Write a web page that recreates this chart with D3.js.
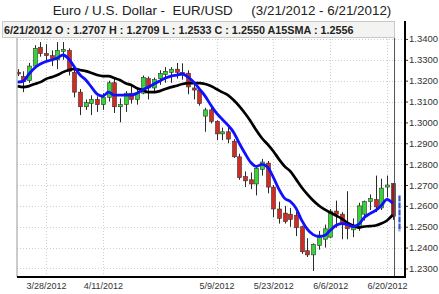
<!DOCTYPE html>
<html>
<head>
<meta charset="utf-8">
<script src="https://cdn.jsdelivr.net/npm/d3@7"></script>
<style>
  body { margin: 0; background: #fff; }
  svg { display: block; font-family: "Liberation Sans", Arial, sans-serif; }
</style>
</head>
<body>
<script>

var dates = ["3/21/2012","3/22/2012","3/23/2012","3/26/2012","3/27/2012","3/28/2012","3/29/2012","3/30/2012",
  "4/2/2012","4/3/2012","4/4/2012","4/5/2012","4/6/2012","4/9/2012","4/10/2012","4/11/2012","4/12/2012","4/13/2012",
  "4/16/2012","4/17/2012","4/18/2012","4/19/2012","4/20/2012","4/23/2012","4/24/2012","4/25/2012","4/26/2012","4/27/2012","4/30/2012",
  "5/1/2012","5/2/2012","5/3/2012","5/4/2012","5/7/2012","5/8/2012","5/9/2012","5/10/2012","5/11/2012","5/14/2012","5/15/2012",
  "5/16/2012","5/17/2012","5/18/2012","5/21/2012","5/22/2012","5/23/2012","5/24/2012","5/25/2012","5/28/2012","5/29/2012","5/30/2012","5/31/2012",
  "6/1/2012","6/4/2012","6/5/2012","6/6/2012","6/7/2012","6/8/2012","6/11/2012","6/12/2012","6/13/2012","6/14/2012","6/15/2012",
  "6/18/2012","6/19/2012","6/20/2012","6/21/2012"];

var opens  = [1.3240,1.3220,1.3200,1.3270,1.3360,1.3330,1.3320,1.3300,1.3340,1.3345,1.3240,1.3145,1.3075,1.3090,1.3110,1.3085,1.3120,1.3190,
  1.3075,1.3085,1.3140,1.3110,1.3140,1.3210,1.3165,1.3210,1.3230,1.3240,1.3255,1.3240,1.3236,1.3165,1.3155,1.3030,1.3060,1.3005,1.2945,1.2955,
  1.2910,1.2835,1.2740,1.2725,1.2705,1.2775,1.2805,1.2690,1.2585,1.2565,1.2560,1.2555,1.2500,1.2385,1.2365,1.2410,1.2440,1.2450,1.2575,1.2560,
  1.2505,1.2485,1.2500,1.2560,1.2620,1.2630,1.2590,1.2690,1.2707];
var highs  = [1.3255,1.3245,1.3285,1.3370,1.3385,1.3375,1.3345,1.3385,1.3385,1.3355,1.3255,1.3160,1.3110,1.3130,1.3125,1.3140,1.3200,1.3212,
  1.3115,1.3150,1.3175,1.3170,1.3225,1.3220,1.3215,1.3250,1.3265,1.3265,1.3285,1.3283,1.3250,1.3190,1.3165,1.3070,1.3075,1.3010,1.2975,1.2978,
  1.2920,1.2850,1.2765,1.2760,1.2785,1.2825,1.2815,1.2700,1.2620,1.2600,1.2590,1.2570,1.2505,1.2445,1.2420,1.2480,1.2510,1.2585,1.2625,1.2570,
  1.2670,1.2540,1.2615,1.2625,1.2655,1.2745,1.2730,1.2745,1.2709];
var lows   = [1.3222,1.3145,1.3190,1.3260,1.3315,1.3290,1.3270,1.3255,1.3300,1.3225,1.3120,1.3035,1.3060,1.3035,1.3050,1.3060,1.3100,1.3045,
  1.3000,1.3050,1.3090,1.3085,1.3135,1.3110,1.3140,1.3180,1.3190,1.3190,1.3210,1.3205,1.3135,1.3110,1.3080,1.2955,1.2995,1.2915,1.2915,1.2900,
  1.2830,1.2725,1.2690,1.2680,1.2650,1.2745,1.2660,1.2545,1.2515,1.2515,1.2500,1.2455,1.2370,1.2355,1.2288,1.2390,1.2400,1.2445,1.2495,1.2440,
  1.2440,1.2450,1.2480,1.2530,1.2580,1.2570,1.2580,1.2640,1.2533];
var closes = [1.3232,1.3195,1.3270,1.3355,1.3330,1.3320,1.3300,1.3345,1.3350,1.3245,1.3145,1.3075,1.3095,1.3110,1.3085,1.3120,1.3190,1.3075,
  1.3085,1.3140,1.3110,1.3140,1.3215,1.3165,1.3205,1.3235,1.3245,1.3255,1.3240,1.3236,1.3170,1.3155,1.3090,1.3060,1.3005,1.2945,1.2955,1.2920,
  1.2835,1.2735,1.2720,1.2705,1.2780,1.2810,1.2690,1.2585,1.2540,1.2525,1.2535,1.2495,1.2380,1.2365,1.2415,1.2460,1.2490,1.2575,1.2560,1.2510,
  1.2490,1.2500,1.2600,1.2620,1.2635,1.2595,1.2685,1.2700,1.2550];

// fast average (blue) and 15-day SMA (black)
var smaFast = [1.3193,1.3198,1.3232,1.3261,1.3280,1.3292,1.3299,1.3309,1.3323,1.3304,1.3265,1.3227,1.3203,1.3169,1.3136,1.3126,1.3145,1.3131,
  1.3131,1.3131,1.3131,1.3140,1.3155,1.3169,1.3184,1.3198,1.3213,1.3222,1.3227,1.3232,1.3217,1.3193,1.3160,1.3126,1.3083,1.3044,1.3015,1.2987,
  1.2953,1.2900,1.2852,1.2809,1.2789,1.2799,1.2785,1.2737,1.2679,1.2636,1.2621,1.2588,1.2530,1.2487,1.2462,1.2453,1.2458,1.2482,1.2506,1.2515,
  1.2511,1.2501,1.2511,1.2544,1.2563,1.2578,1.2602,1.2631,1.2612];
var sma15 = [1.3174,1.3169,1.3174,1.3184,1.3193,1.3208,1.3217,1.3227,1.3241,1.3251,1.3256,1.3251,1.3246,1.3237,1.3227,1.3222,1.3222,1.3213,
  1.3203,1.3188,1.3179,1.3164,1.3155,1.3145,1.3145,1.3150,1.3160,1.3169,1.3176,1.3184,1.3188,1.3188,1.3188,1.3184,1.3174,1.3160,1.3145,1.3131,
  1.3107,1.3078,1.3044,1.3006,1.2962,1.2924,1.2895,1.2862,1.2823,1.2789,1.2765,1.2727,1.2688,1.2655,1.2626,1.2602,1.2583,1.2568,1.2554,1.2539,
  1.2520,1.2506,1.2496,1.2501,1.2503,1.2506,1.2515,1.2530,1.2556];

var priceTicks = [1.23,1.24,1.25,1.26,1.27,1.28,1.29,1.30,1.31,1.32,1.33,1.34];
var dateTicks = ["3/28/2012","4/11/2012","5/9/2012","5/23/2012","6/6/2012","6/20/2012"];
var lastRange = [1.2650, 1.2478];

var width = 439, height = 294;
var margin = { left: 17, right: 405, top: 21, bottom: 277 };

var svg = d3.select("body").append("svg")
  .attr("width", width)
  .attr("height", height);

var x = d3.scalePoint()
  .domain(dates)
  .range([17.6, 392.7]);

var y = d3.scaleLinear()
  .domain([1.2259, 1.3486])
  .range([margin.bottom, margin.top]);

// grid
svg.append("g")
  .selectAll("line")
  .data(priceTicks)
  .enter().append("line")
    .attr("x1", margin.left).attr("x2", margin.right)
    .attr("y1", function(d) { return Math.round(y(d)) + 0.5; })
    .attr("y2", function(d) { return Math.round(y(d)) + 0.5; })
    .attr("stroke", "#cfcfcf")
    .attr("stroke-dasharray", "1,2");

svg.append("g")
  .selectAll("line")
  .data(dateTicks)
  .enter().append("line")
    .attr("x1", function(d) { return Math.round(x(d)) + 0.5; })
    .attr("x2", function(d) { return Math.round(x(d)) + 0.5; })
    .attr("y1", margin.top).attr("y2", margin.bottom)
    .attr("stroke", "#cfcfcf")
    .attr("stroke-dasharray", "1,2");

svg.append("defs").append("clipPath").attr("id", "plot")
  .append("rect").attr("x", margin.left).attr("y", margin.top)
  .attr("width", margin.right - margin.left).attr("height", margin.bottom - margin.top);

var plot = svg.append("g").attr("clip-path", "url(#plot)");

var idx = d3.range(dates.length);

// candles
plot.append("g").selectAll("line")
  .data(idx)
  .enter().append("line")
    .attr("x1", function(i) { return Math.round(x(dates[i])) + 0.5; })
    .attr("x2", function(i) { return Math.round(x(dates[i])) + 0.5; })
    .attr("y1", function(i) { return y(highs[i]); })
    .attr("y2", function(i) { return y(lows[i]); })
    .attr("stroke", "#2a2a2a")
    .attr("stroke-width", 1);

plot.append("g").selectAll("rect")
  .data(idx)
  .enter().append("rect")
    .attr("x", function(i) { return Math.round(x(dates[i])) - 1.5; })
    .attr("y", function(i) { return y(Math.max(opens[i], closes[i])); })
    .attr("width", 4)
    .attr("height", function(i) { return Math.max(1.5, Math.abs(y(opens[i]) - y(closes[i]))); })
    .attr("fill", function(i) {
      if (i == dates.length - 1) return "#8e2020";
      return closes[i] >= opens[i] ? "#33d633" : "#d42a22";
    })
    .attr("stroke", "#333")
    .attr("stroke-width", 0.6);

var line = d3.line()
  .x(function(d, i) { return x(dates[i]); })
  .y(function(d) { return y(d); })
  .curve(d3.curveMonotoneX);

plot.append("path")
  .datum(sma15)
  .attr("d", line)
  .attr("fill", "none")
  .attr("stroke", "#000")
  .attr("stroke-width", 2.7)
  .attr("stroke-linejoin", "round");

plot.append("path")
  .datum(smaFast)
  .attr("d", line)
  .attr("fill", "none")
  .attr("stroke", "#1010ff")
  .attr("stroke-width", 2.8)
  .attr("stroke-linejoin", "round");

// cursor line on the last bar
var lastX = x(dates[dates.length - 1]) + 1.8;
svg.append("line")
  .attr("x1", lastX).attr("x2", lastX)
  .attr("y1", margin.top).attr("y2", margin.bottom)
  .attr("stroke", "#555")
  .attr("stroke-width", 1);

svg.append("line")
  .attr("x1", 399.5).attr("x2", 399.5)
  .attr("y1", y(lastRange[0])).attr("y2", y(lastRange[1]))
  .attr("stroke", "#2f55c8")
  .attr("stroke-width", 2.2)
  .attr("stroke-dasharray", "6,1");

// axes
var yAxis = svg.append("g")
  .attr("transform", "translate(" + margin.right + ",0)")
  .call(d3.axisRight(y).tickValues(priceTicks).tickFormat(d3.format(".4f")).tickSize(3).tickPadding(1));
yAxis.select(".domain").remove();
yAxis.selectAll("text").attr("font-size", "9.5px").attr("fill", "#333").attr("font-family", "Liberation Sans, Arial");
yAxis.selectAll("line").attr("stroke", "#333");

var xAxis = svg.append("g")
  .attr("transform", "translate(0," + margin.bottom + ")")
  .call(d3.axisBottom(x).tickValues(dateTicks).tickSize(0).tickPadding(6));
xAxis.select(".domain").remove();
xAxis.selectAll("text").attr("font-size", "9px").attr("fill", "#333").attr("font-family", "Liberation Sans, Arial");

svg.append("line")
  .attr("x1", margin.left).attr("x2", margin.left).attr("y1", margin.top).attr("y2", margin.bottom)
  .attr("stroke", "#999");
svg.append("line")
  .attr("x1", margin.left).attr("x2", margin.right + 1).attr("y1", margin.bottom).attr("y2", margin.bottom)
  .attr("stroke", "#000").attr("stroke-width", 2);
svg.append("line")
  .attr("x1", margin.right).attr("x2", margin.right).attr("y1", margin.top).attr("y2", margin.bottom)
  .attr("stroke", "#000").attr("stroke-width", 2);

// header
svg.append("rect")
  .attr("x", 2.5).attr("y", margin.top + 0.5).attr("width", 392).attr("height", 16)
  .attr("fill", "#f3f3f1").attr("stroke", "#c8c8c8");

svg.append("text")
  .attr("x", 4).attr("y", 33.5)
  .attr("font-size", "10.8px").attr("font-weight", "bold").attr("fill", "#222")
  .text("6/21/2012 O : 1.2707 H : 1.2709 L : 1.2533 C : 1.2550 A15SMA : 1.2556");

svg.append("text")
  .attr("x", 222).attr("y", 15)
  .attr("text-anchor", "middle")
  .attr("font-size", "13.4px").attr("fill", "#222")
  .style("white-space", "pre")
  .text("Euro / U.S. Dollar -  EUR/USD     (3/21/2012 - 6/21/2012)");

</script>
</body>
</html>
